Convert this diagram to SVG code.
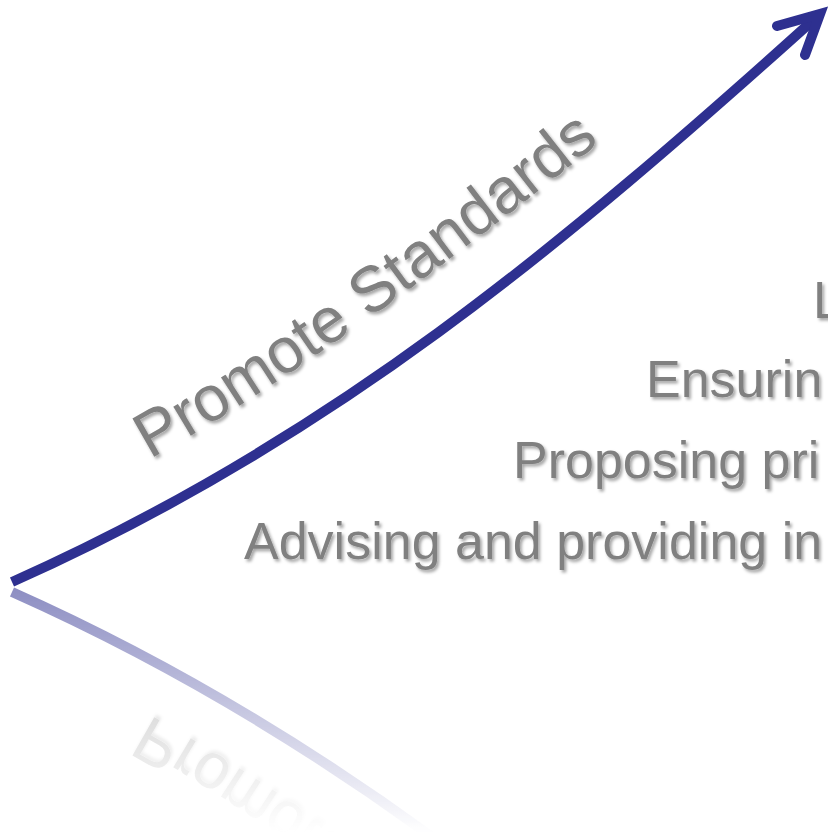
<svg xmlns="http://www.w3.org/2000/svg" xmlns:xlink="http://www.w3.org/1999/xlink" width="828" height="833" viewBox="0 0 828 833">
  <style>
    .shaft { fill: none; stroke: #2E3090; stroke-width: 10; stroke-linecap: butt; }
    .head { fill: none; stroke: #2E3090; stroke-width: 10; stroke-linecap: round; stroke-linejoin: miter; stroke-miterlimit: 10; }
    .gray { font-family: "Liberation Sans", Arial, sans-serif; fill: #808080; }
    .list { font-size: 52px; }
    .label { font-size: 64px; }
  </style>
  <defs>
    <filter id="shadow" x="-10%" y="-20%" width="130%" height="150%">
      <feDropShadow dx="2" dy="2.5" stdDeviation="1.6" flood-color="#000" flood-opacity="0.35"/>
    </filter>
    <path id="curve" d="M12,582 C332,439.5 560,248 820,14"/>
    <path id="labelPath" d="M150,459 C326,362 552,184 712,50"/>
    <linearGradient id="fadeGrad" gradientUnits="userSpaceOnUse" x1="0" y1="587" x2="0" y2="833">
      <stop offset="0" stop-color="#fff" stop-opacity="0.55"/>
      <stop offset="1" stop-color="#fff" stop-opacity="0"/>
    </linearGradient>
    <mask id="fade" maskUnits="userSpaceOnUse" x="0" y="587" width="828" height="246">
      <rect x="0" y="587" width="828" height="246" fill="url(#fadeGrad)"/>
    </mask>
  </defs>

  <g id="reflection" mask="url(#fade)">
    <g transform="matrix(1 0 0 -1 0 1174)">
      <use xlink:href="#curve" href="#curve" class="shaft"/>
      <text class="gray label" filter="url(#shadow)"><textPath xlink:href="#labelPath" href="#labelPath">Promote Standards</textPath></text>
    </g>
  </g>

  <g id="connectors">
    <use xlink:href="#curve" href="#curve" class="shaft"/>
    <path class="head" d="M777,26 L820,14 L805,55"/>
  </g>

  <g id="label-promote">
    <text class="gray label" filter="url(#shadow)"><textPath xlink:href="#labelPath" href="#labelPath">Promote Standards</textPath></text>
  </g>

  <g id="list" class="gray list" filter="url(#shadow)">
    <text id="item-1" x="813" y="318">L</text>
    <text id="item-2" x="646" y="397">Ensurin</text>
    <text id="item-3" x="513" y="478">Proposing pri</text>
    <text id="item-4" x="244" y="559">Advising and providing in</text>
  </g>
</svg>
